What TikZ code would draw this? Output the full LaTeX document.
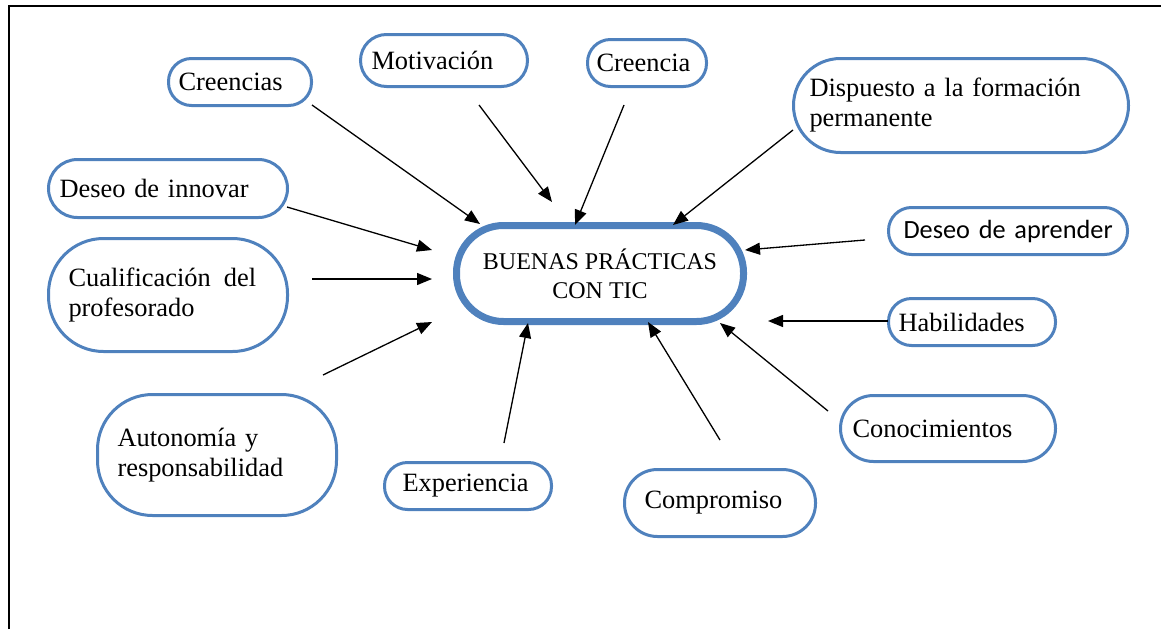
\documentclass[tikz,border=0pt]{standalone}
\usepackage{fontspec}
\setmainfont{Liberation Serif}
\newfontfamily\calfont{Carlito}
\usetikzlibrary{arrows.meta}
\definecolor{boxblue}{HTML}{4F81BD}
\tikzset{
  bx/.style={draw=boxblue, line width=3pt, inner ysep=0pt, align=left,
    font=\fontsize{26.4}{30}\selectfont},
  hub/.style={draw=boxblue, line width=7pt, inner sep=0pt, align=center,
    minimum width=287pt, minimum height=96pt, rounded corners=47pt,
    font=\fontsize{24}{29}\selectfont},
  arr/.style={line width=1.3pt, -{Triangle[length=15pt,width=12pt]}},
  frame/.style={line width=2pt}
}
\begin{document}
\begin{tikzpicture}[x=1pt,y=-1pt]
\useasboundingbox (0,0) rectangle (1161,629);
% frame
\coordinate (fb) at (8.5,629);
\coordinate (fc) at (8.5,6);
\coordinate (fr) at (1161,6);
\draw[frame] (fb) -- (fc) -- (fr);

% hub
\node[hub] (hub) at (600,273.5) {\mbox{BUENAS PRÁCTICAS}\\\mbox{CON TIC}};

% satellites
\node[bx, text width=123pt, inner xsep=10pt, minimum height=47pt, rounded corners=23pt] (creencias) at (240,82) {\mbox{Creencias}};
\node[bx, text width=145pt, inner xsep=11pt, minimum height=52pt, rounded corners=26pt] (motivacion) at (444,60.5) {\mbox{Motivación}};
\node[bx, text width=101pt, inner xsep=9pt, minimum height=47pt, rounded corners=23pt] (creencia) at (647,63) {\mbox{Creencia}};
\node[bx, text width=303pt, inner xsep=16pt, minimum height=94pt, rounded corners=47pt] (dispuesto) at (961,105.5) {\mbox{Dispuesto a la formación}\\\mbox{permanente}};
\node[bx, text width=217pt, inner xsep=11pt, minimum height=58pt, rounded corners=29pt] (innovar) at (168,188.5) {\mbox{Deseo de innovar}};
\node[bx, text width=199pt, inner xsep=20pt, minimum height=113pt, rounded corners=55pt] (cualif) at (168,295) {\mbox{Cualificación\hspace{0.5em}del}\\\mbox{profesorado}\\[4pt]};
\node[bx, text width=199pt, inner xsep=20pt, minimum height=121pt, rounded corners=55pt] (autonomia) at (217,455) {\mbox{Autonomía y}\\\mbox{responsabilidad}\\[4pt]};
\node[bx, text width=131pt, inner xsep=18pt, minimum height=47pt, rounded corners=23pt] (experiencia) at (468,486) {\mbox{Experiencia}};
\node[bx, text width=151pt, inner xsep=20pt, minimum height=67pt, rounded corners=33pt] (compromiso) at (720,503) {\mbox{Compromiso}\\[2pt]};
\node[bx, text width=191pt, inner xsep=12pt, minimum height=66pt, rounded corners=33pt] (conocimientos) at (948,428.5) {\mbox{Conocimientos}\\[2pt]};
\node[bx, text width=209pt, inner xsep=15pt, minimum height=47pt, rounded corners=23pt, font=\calfont\fontsize{26.3}{30}\selectfont] (aprender) at (1008,231) {\mbox{Deseo de aprender}};
\node[bx, text width=147pt, inner xsep=10pt, minimum height=47pt, rounded corners=23pt] (habilidades) at (972,322) {\mbox{Habilidades}};

% arrow ends
\coordinate (a1s) at (312,105);  \coordinate (a1e) at (480,224);
\coordinate (a2s) at (479,105);  \coordinate (a2e) at (552,202);
\coordinate (a3s) at (624,105);  \coordinate (a3e) at (575,225);
\coordinate (a4s) at (793,130);  \coordinate (a4e) at (673,225);
\coordinate (a5s) at (865,240);  \coordinate (a5e) at (745,250);
\coordinate (a6s) at (888,321);  \coordinate (a6e) at (768,321);
\coordinate (a7s) at (828,411);  \coordinate (a7e) at (720,323);
\coordinate (a8s) at (720,440);  \coordinate (a8e) at (648,322);
\coordinate (a9s) at (504,443);  \coordinate (a9e) at (528,323);
\coordinate (a10s) at (323,375); \coordinate (a10e) at (432,322);
\coordinate (a11s) at (312,279); \coordinate (a11e) at (432,279);
\coordinate (a12s) at (287,207); \coordinate (a12e) at (432,250);

\foreach \i in {1,...,12} {\draw[arr] (a\i s) -- (a\i e);}
\end{tikzpicture}
\end{document}
